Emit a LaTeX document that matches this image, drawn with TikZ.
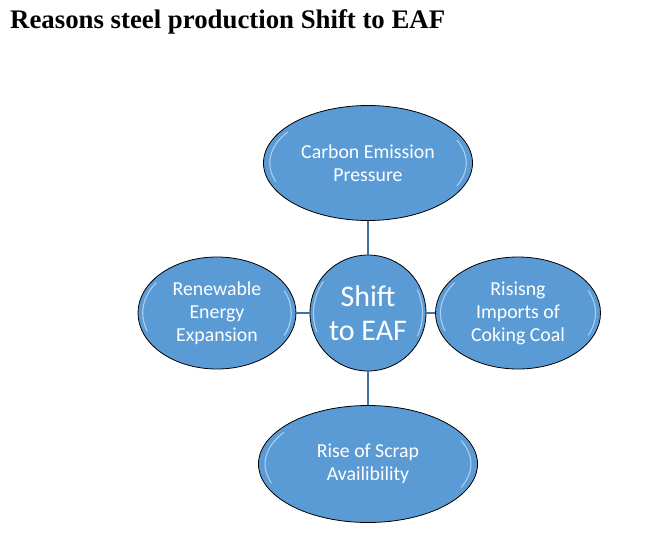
\documentclass[tikz,border=0pt]{standalone}
\usepackage{fontspec}
\setmainfont{Liberation Serif}
\newfontfamily\bodyfont{Carlito}
\usetikzlibrary{shapes.geometric, positioning, calc}

\definecolor{bubblefill}{HTML}{5B9BD5}
\definecolor{linkblue}{HTML}{41719C}

\begin{document}
\begin{tikzpicture}[x=1pt, y=1pt,
    % Outer reason bubbles
    reason/.style={
        ellipse, draw=black, line width=0.8pt, fill=bubblefill,
        inner sep=0pt, align=center, text=white,
        font=\bodyfont\fontsize{19.8}{23}\selectfont,
        path picture={
            \draw[white, opacity=.5, line width=1.1pt, line cap=round]
              let \p1=($(path picture bounding box.north east)-(path picture bounding box.center)$) in
              ($(path picture bounding box.center)+({0.94*\x1*cos(145)},{0.94*\y1*sin(145)})$)
                arc[start angle=145, end angle=200, x radius=0.94*\x1, y radius=0.94*\y1]
              ($(path picture bounding box.center)+({0.94*\x1*cos(-25)},{0.94*\y1*sin(-25)})$)
                arc[start angle=-25, end angle=25, x radius=0.94*\x1, y radius=0.94*\y1];
        }
    },
    % Central bubble
    hub/.style={
        reason, circle, minimum size=116,
        font=\bodyfont\fontsize{30}{34}\selectfont
    },
    % Connectors
    link/.style={draw=linkblue, line width=1.3pt},
]

\useasboundingbox (0,0) rectangle (655,-540);

% ===== TITLE =====
\node[anchor=base west, font=\bfseries\fontsize{26.8}{30}\selectfont, inner sep=0pt]
    (title) at (10,-29) {Reasons steel production Shift to EAF};

% ===== BUBBLES =====
\node[hub] (eaf) at (368,-313) {Shift\\to EAF};

\node[reason, minimum width=209, minimum height=115] (carbon) at (368,-163)
    {Carbon Emission\\Pressure};
\node[reason, minimum width=158, minimum height=112] (renew) at (217,-313)
    {Renewable\\Energy\\Expansion};
\node[reason, minimum width=165, minimum height=112] (coal) at (518,-313)
    {Risisng\\Imports of\\Coking Coal};
\node[reason, minimum width=219, minimum height=117] (scrap) at (368,-464)
    {Rise of Scrap\\Availibility};

% ===== CONNECTORS =====
\draw[link] (carbon) -- (eaf);
\draw[link] (renew) -- (eaf);
\draw[link] (coal) -- (eaf);
\draw[link] (scrap) -- (eaf);

\end{tikzpicture}
\end{document}
